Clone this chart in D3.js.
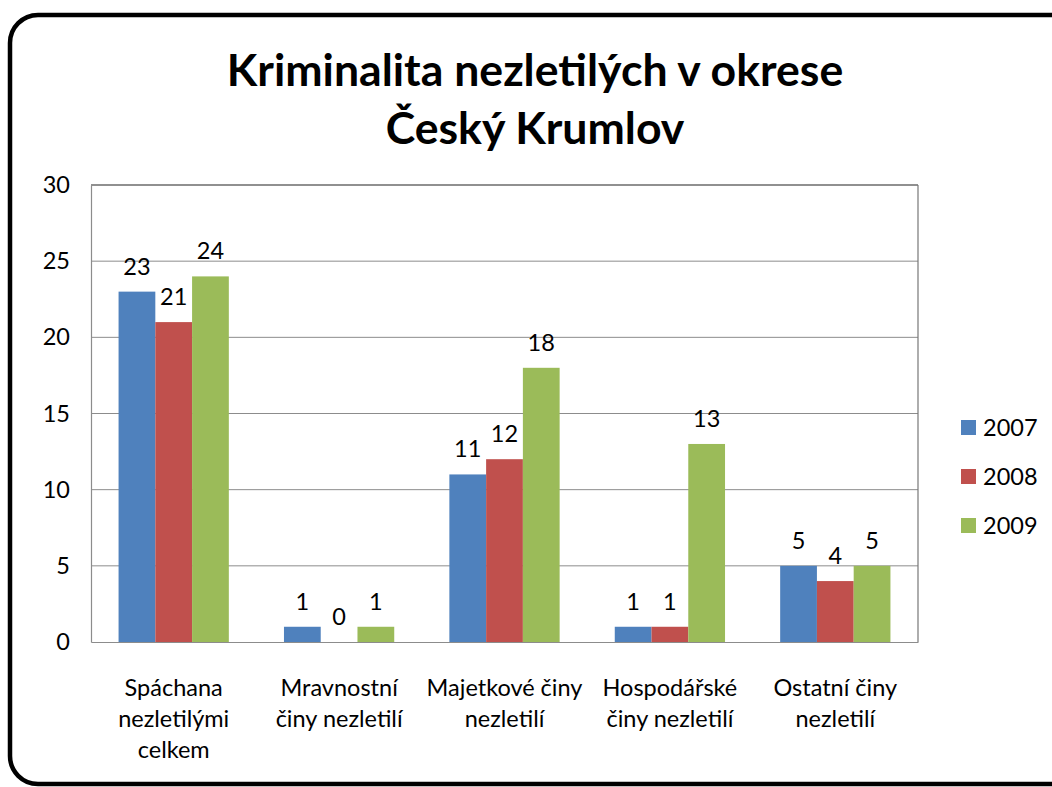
<!DOCTYPE html>
<html><head><meta charset="utf-8">
<script src="https://cdn.jsdelivr.net/npm/d3@7"></script>
<style>body{margin:0;background:#fff;} svg{display:block;}</style>
</head><body>
<svg id="c" width="1052" height="787"></svg>
<script>
const categories = [["Spáchana","nezletilými","celkem"],["Mravnostní","činy nezletilí"],["Majetkové činy","nezletilí"],["Hospodářské","činy nezletilí"],["Ostatní činy","nezletilí"]];
const series = ["2007","2008","2009"];
const v2007 = [23,1,11,1,5];
const v2008 = [21,0,12,1,4];
const v2009 = [24,1,18,13,5];
const yTicks = [0,5,10,15,20,25,30];
const colors = ["#4F81BD","#C0504D","#9BBB59"];
const titleLines = ["Kriminalita nezletilých v okrese","Český Krumlov"];

const values = [v2007,v2008,v2009];
const svg = d3.select("#c");
const font = "Lato, 'Open Sans', sans-serif";
const fs = 23.5;

svg.append("rect").attr("x",10).attr("y",15).attr("width",1070).attr("height",769)
  .attr("rx",28).attr("fill","none").attr("stroke","#000").attr("stroke-width",4.5);

svg.selectAll(".title").data(titleLines).enter().append("text")
  .attr("x",535).attr("y",(d,i)=>86+i*58).attr("text-anchor","middle")
  .attr("font-family",font).attr("font-weight","bold").attr("font-size",44.6).attr("fill","#000").text(d=>d);

const L=91,R=918,T=185,B=642;
const x = d3.scaleBand().domain(d3.range(categories.length)).range([L,R]).paddingInner(1.5/4.5).paddingOuter(0.75/4.5);
const xs = d3.scaleBand().domain(series).range([0,x.bandwidth()]);
const y = d3.scaleLinear().domain([0,30]).range([B,T]);

const g = svg.append("g");
g.selectAll(".grid").data(yTicks.filter(t=>t>0&&t<30)).enter().append("line")
  .attr("x1",L).attr("x2",R).attr("y1",d=>y(d)).attr("y2",d=>y(d)).attr("stroke","#8c8c8c").attr("stroke-width",1);
g.append("line").attr("x1",L).attr("x2",R).attr("y1",T).attr("y2",T).attr("stroke","#222").attr("stroke-width",1.2);
g.append("line").attr("x1",R).attr("x2",R).attr("y1",T).attr("y2",B).attr("stroke","#777").attr("stroke-width",1.2);

series.forEach((s,si)=>{
  g.selectAll(".b"+si).data(values[si]).enter().append("rect")
    .attr("x",(d,i)=>x(i)+xs(s)).attr("width",xs.bandwidth())
    .attr("y",d=>y(d)).attr("height",d=>B-y(d)).attr("fill",colors[si]);
  g.selectAll(".l"+si).data(values[si]).enter().append("text")
    .attr("x",(d,i)=>x(i)+xs(s)+xs.bandwidth()/2).attr("y",d=>y(d)-17)
    .attr("text-anchor","middle").attr("font-family",font).attr("font-size",fs).attr("fill","#000").text(d=>d);
});

const yAxis = d3.axisLeft(y).tickValues(yTicks).tickSize(0).tickPadding(21);
const ya = svg.append("g").attr("transform",`translate(${L},0)`).call(yAxis);
ya.select(".domain").attr("stroke","#8c8c8c").attr("stroke-width",1.2);
ya.selectAll("text").attr("font-family",font).attr("font-size",fs).attr("fill","#000");

const xAxis = d3.axisBottom(x).tickSize(0).tickFormat("");
const xa = svg.append("g").attr("transform",`translate(0,${B})`).call(xAxis);
xa.select(".domain").attr("stroke","#8c8c8c").attr("stroke-width",1.2);
xa.selectAll(".tick").each(function(d){
  d3.select(this).selectAll("text.cl").data(categories[d]).enter().append("text").attr("class","cl")
    .attr("x",0).attr("y",(t,i)=>54+i*31).attr("text-anchor","middle")
    .attr("font-family",font).attr("font-size",fs).attr("fill","#000").text(t=>t);
});

const lg = svg.append("g");
series.forEach((s,i)=>{
  lg.append("rect").attr("x",961).attr("y",420+i*49).attr("width",15).attr("height",15).attr("fill",colors[i]);
  lg.append("text").attr("x",983).attr("y",436+i*49).attr("font-family",font).attr("font-size",fs).attr("fill","#000").text(s);
});
</script>
</body></html>
